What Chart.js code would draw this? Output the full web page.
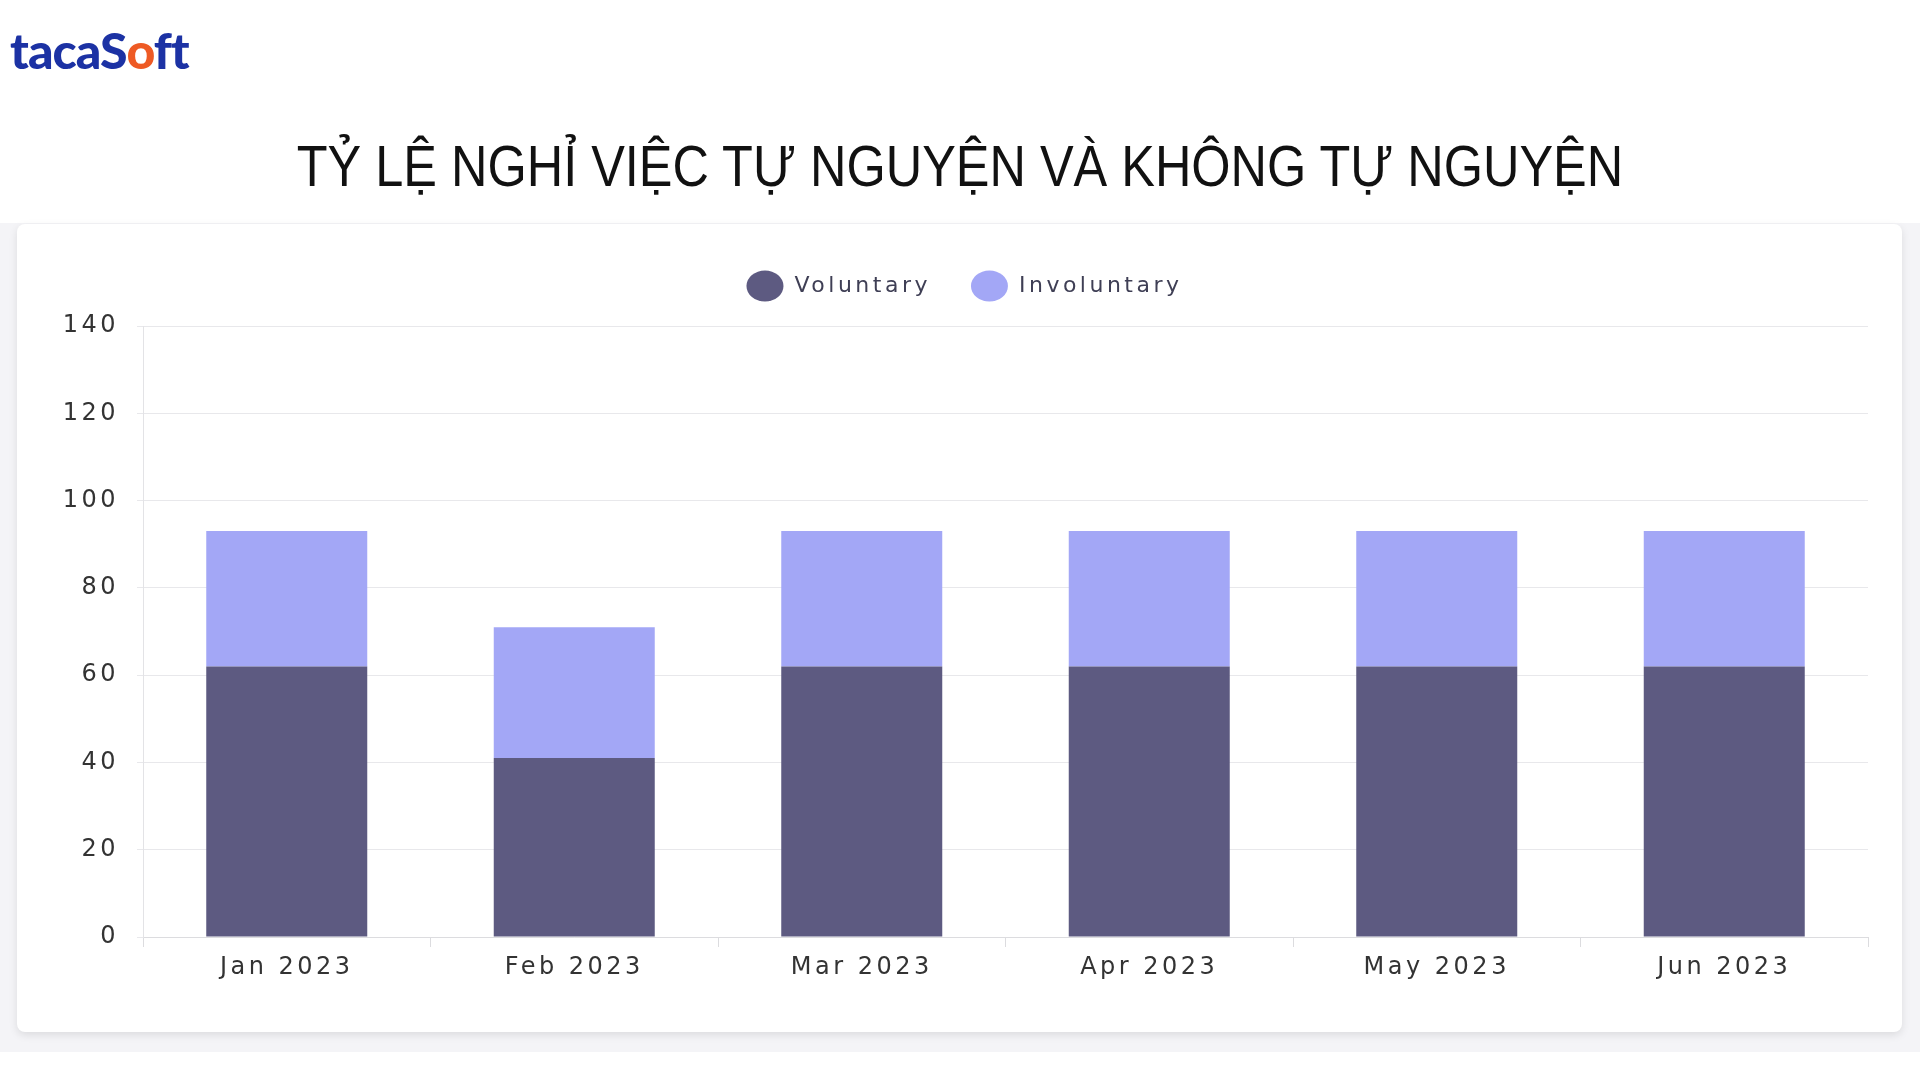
<!DOCTYPE html>
<html>
<head>
<meta charset="utf-8">
<script src="https://cdn.jsdelivr.net/npm/chart.js@4.4.0/dist/chart.umd.min.js"></script>
<style>
  html, body { margin: 0; padding: 0; width: 1920px; height: 1080px; background: #ffffff; overflow: hidden; }
  .logo { position: absolute; left: 10px; top: 20px; font-family: "Lato", sans-serif; font-weight: 900; font-size: 50px; letter-spacing: -1px; color: #1c32a4; }
  .logo .o { color: #ee5a24; }
  .title { position: absolute; left: 0; top: 132px; width: 1920px; text-align: center; font-family: "Liberation Sans", Arial, sans-serif; font-size: 58px; color: #111; transform: scaleX(0.87); transform-origin: 960px 0; white-space: nowrap; }
  .band { position: absolute; left: 0; top: 223px; width: 1920px; height: 829px; background: #f4f4f7; }
  .card { position: absolute; left: 17px; top: 224px; width: 1885px; height: 808px; background: #fff; border-radius: 8px; box-shadow: 0 3px 8px rgba(0,0,0,0.10); }
</style>
</head>
<body>
<div class="logo">tacaS<span class="o">o</span>ft</div>
<div class="title">TỶ LỆ NGHỈ VIỆC TỰ NGUYỆN VÀ KHÔNG TỰ NGUYỆN</div>
<div class="band"></div>
<div class="card"><canvas id="turnoverChart"></canvas></div>
<script>
// data
var months = ['Jan 2023', 'Feb 2023', 'Mar 2023', 'Apr 2023', 'May 2023', 'Jun 2023'];
var voluntary = [62, 41, 62, 62, 62, 62];
var involuntary = [31, 30, 31, 31, 31, 31];
var yMax = 140;
var yStep = 20;

// the picture's text is wide, so space the letters a bit
var spacing = {
    id: 'spacing',
    beforeInit: function(c) {
        // legend box gets a fixed height so the plot starts where it should
        var fit = c.legend.fit;
        c.legend.fit = function() {
            fit.call(this);
            this.height = 91;
        };
    },
    beforeUpdate: function(c) { c.ctx.letterSpacing = '3.5px'; },
    beforeLayout: function(c) { c.ctx.letterSpacing = '3.5px'; },
    beforeDraw: function(c) { c.ctx.letterSpacing = '3.5px'; }
};

var ctx = document.getElementById('turnoverChart').getContext('2d');
var chart = new Chart(ctx, {
    type: 'bar',
    data: {
        labels: months,
        datasets: [{
            label: 'Voluntary',
            data: voluntary,
            backgroundColor: '#5d5a81'
        }, {
            label: 'Involuntary',
            data: involuntary,
            backgroundColor: '#a3a7f6'
        }]
    },
    options: {
        responsive: true,
        maintainAspectRatio: false,
        animation: false,
        categoryPercentage: 0.8,
        barPercentage: 0.7,
        layout: { padding: { top: 11, right: 34, left: 44, bottom: 0 } },
        plugins: {
            tooltip: { enabled: false },
            legend: {
                position: 'top',
                labels: {
                    usePointStyle: true,
                    pointStyle: 'circle',
                    boxHeight: 23,
                    pointStyleWidth: 37,
                    padding: 40,
                    color: '#3f3f55',
                    font: { family: 'DejaVu Sans', size: 22 }
                }
            }
        },
        scales: {
            x: {
                stacked: true,
                afterFit: function(scale) { scale.height = 95; },
                grid: {
                    offset: true,
                    tickLength: 10,
                    tickColor: '#dcdcdf',
                    color: function(c) { return c.index === months.length ? '#ececef' : 'rgba(0,0,0,0)'; }
                },
                border: { color: '#dcdcdf' },
                ticks: {
                    padding: 6,
                    color: '#333333',
                    font: { family: 'DejaVu Sans', size: 24 }
                }
            },
            y: {
                stacked: true,
                min: 0,
                max: yMax,
                afterFit: function(scale) { scale.width = 82; },
                grid: { color: '#e8e8eb', tickLength: 6 },
                border: { color: '#e3e3e6' },
                ticks: {
                    stepSize: yStep,
                    padding: 18,
                    color: '#333333',
                    font: { family: 'DejaVu Sans', size: 24 }
                }
            }
        }
    },
    plugins: [spacing]
});
</script>
</body>
</html>
